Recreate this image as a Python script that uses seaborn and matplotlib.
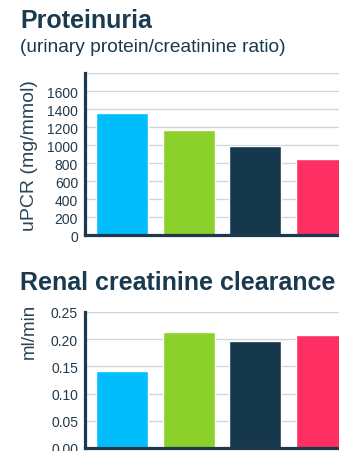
import matplotlib
matplotlib.use("Agg")
import matplotlib.pyplot as plt
import seaborn as sns
import pandas as pd

# Treatment groups and their bar colours
groups = ["A", "B", "C", "D"]
colors = ["#02bdfc", "#8cd02b", "#15384d", "#fe2f62"]

# Proteinuria: urinary protein/creatinine ratio (mg/mmol)
upcr = [1360, 1170, 990, 840]
upcr_ticks = [0, 200, 400, 600, 800, 1000, 1200, 1400, 1600, 1800]
upcr_labels = ["0", "200", "400", "600", "800", "1000", "1200", "1400", "1600", ""]

# Renal creatinine clearance (ml/min)
clearance = [0.1415, 0.213, 0.197, 0.208]
clr_ticks = [0.00, 0.05, 0.10, 0.15, 0.20, 0.25]
clr_labels = ["0.00", "0.05", "0.10", "0.15", "0.20", "0.25"]

sns.set_style("white")
plt.rcParams["font.family"] = ["Liberation Sans", "DejaVu Sans"]

TEXT = "#1a3a4f"
TICK = "#22394a"
GRID = "#cdd7de"
SPINE = "#1c3a4d"

W, H = 339, 452
fig = plt.figure(figsize=(W / 100, H / 100), dpi=100)
fig.patch.set_facecolor("white")


def px_axes(left, top, right, bottom):
    return fig.add_axes([left / W, 1 - bottom / H, (right - left) / W, (bottom - top) / H])


def style(ax, ticks, labels, top):
    ax.set_ylim(0, top)
    ax.set_xlim(-0.56, 3.5)
    ax.set_yticks(ticks)
    ax.set_yticklabels(labels, color=TICK, fontsize=10)
    ax.set_xticks([])
    ax.set_xlabel("")
    ax.tick_params(axis="y", length=0, pad=5)
    ax.grid(axis="y", color=GRID, linewidth=1.0)
    ax.set_axisbelow(True)
    for s in ("top", "right"):
        ax.spines[s].set_visible(False)
    for s in ("left", "bottom"):
        ax.spines[s].set_color(SPINE)
        ax.spines[s].set_linewidth(2.3)


df1 = pd.DataFrame({"group": groups, "value": upcr})
ax1 = px_axes(85, 74, 355, 236)
sns.barplot(data=df1, x="group", y="value", hue="group", palette=colors,
            legend=False, width=0.78, ax=ax1, saturation=1)
style(ax1, upcr_ticks, upcr_labels, 1800)
ax1.set_ylabel("")
fig.text(30 / W, 1 - 156 / H, "uPCR (mg/mmol)", rotation=90, ha="center",
         va="center", fontsize=14, color="#2a4558")

df2 = pd.DataFrame({"group": groups, "value": clearance})
ax2 = px_axes(85, 313, 355, 449)
sns.barplot(data=df2, x="group", y="value", hue="group", palette=colors,
            legend=False, width=0.78, ax=ax2, saturation=1)
style(ax2, clr_ticks, clr_labels, 0.25)
ax2.set_ylabel("")
fig.text(29 / W, 1 - 331 / H, "ml/min", rotation=90, ha="center",
         va="center", fontsize=13.5, color="#2a4558")

# Panel headings
fig.text(20 / W, 1 - 28 / H, "Proteinuria", fontsize=18, fontweight="bold",
         color=TEXT, va="baseline", ha="left")
fig.text(20 / W, 1 - 51.5 / H, "(urinary protein/creatinine ratio)", fontsize=13.8,
         color=TEXT, va="baseline", ha="left")
fig.text(20 / W, 1 - 290 / H, "Renal creatinine clearance", fontsize=18,
         fontweight="bold", color=TEXT, va="baseline", ha="left")

fig.savefig("out.png", dpi=100)
